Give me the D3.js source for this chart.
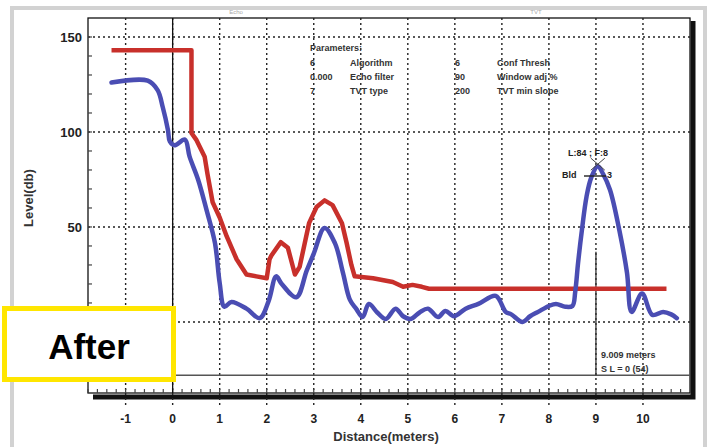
<!DOCTYPE html>
<html>
<head>
<meta charset="utf-8">
<script src="https://cdn.jsdelivr.net/npm/d3@7"></script>
<style>
  body { margin: 0; background: #fff; }
  text { font-family: "Liberation Sans", Arial, sans-serif; }
</style>
</head>
<body>
<svg id="chart" width="713" height="447"></svg>
<script>
'use strict';

// threshold (TVT) curve, red
const redX = [-1.3, 0.4, 0.4, 0.5, 0.68, 0.74, 0.85, 1.0, 1.15, 1.36, 1.57, 1.78, 2.0, 2.06, 2.1, 2.3, 2.45, 2.6, 2.7, 2.9, 3.06, 3.23, 3.4, 3.6, 3.7, 3.8, 3.87, 4.26, 4.68, 4.9, 5.1, 5.3, 5.45, 10.5];
const redY = [143, 143, 99.5, 96, 87, 78, 63, 55, 45, 33, 25, 24, 23, 33, 35, 42, 39, 25, 29, 52, 60.5, 64, 61.5, 52, 41.5, 30, 24, 23, 21, 18.5, 19.5, 18.5, 17.5, 17.5];

// echo profile, blue
const blueX = [-1.3, -0.53, -0.32, -0.21, -0.1, -0.06, 0.04, 0.26, 0.36, 0.54, 0.72, 0.9, 1.0, 1.1, 1.25, 1.57, 1.85, 2.04, 2.2, 2.32, 2.63, 2.85, 3.0, 3.23, 3.45, 3.62, 3.77, 3.9, 4.04, 4.17, 4.35, 4.53, 4.74, 4.9, 5.06, 5.25, 5.43, 5.64, 5.8, 5.98, 6.23, 6.5, 6.87, 7.08, 7.2, 7.44, 7.6, 7.77, 8.0, 8.15, 8.35, 8.5, 8.56, 8.62, 8.7, 8.8, 8.9, 9.04, 9.15, 9.3, 9.5, 9.66, 9.76, 9.98, 10.2, 10.43, 10.6, 10.72];
const blueY = [126, 127, 122, 113, 101, 95, 93, 96, 87, 75, 59, 41.5, 20.5, 8, 10.5, 7, 2, 11, 24, 20, 13, 27, 36, 49.5, 41.5, 26, 11.6, 7, 2.6, 9.5, 5, 1.6, 7, 3, 1.6, 5, 7, 2.6, 5.8, 3, 7, 9.5, 13.7, 5.3, 4, 0, 3, 5.3, 8.4, 9.5, 8, 8.4, 16, 31, 48, 66, 76, 82, 78, 69.5, 48, 26, 5.3, 15, 3.7, 5.3, 4, 2];

const xTicks = [-1, 0, 1, 2, 3, 4, 5, 6, 7, 8, 9, 10];
const yTicks = [50, 100, 150];
const yGrid = [0, 50, 100, 150];

const paramRows = [
  ['6', 'Algorithm', '6', 'Conf Thresh'],
  ['0.000', 'Echo filter', '90', 'Window adj %'],
  ['7', 'TVT type', '200', 'TVT min slope']
];

const svg = d3.select('#chart');
const box = { left: 88, right: 690, top: 18, bottom: 393 };

const x = d3.scaleLinear().domain([-1.8, 11.0]).range([box.left, box.right]);
const y = d3.scaleLinear().domain([-37.4, 160]).range([box.bottom, box.top]);

// outer light frame
svg.append('rect')
  .attr('x', 12).attr('y', 8).attr('width', 693).attr('height', 460)
  .attr('fill', 'none').attr('stroke', '#d2d2d2').attr('stroke-width', 4);

// faint cut-off header text
svg.append('text').attr('x', 236).attr('y', 14).attr('font-size', 6)
  .attr('fill', '#aaa').attr('text-anchor', 'middle').text('Echo');
svg.append('text').attr('x', 536).attr('y', 14).attr('font-size', 6)
  .attr('fill', '#aaa').attr('text-anchor', 'middle').text('TVT');

// frame shadow
svg.append('path')
  .attr('d', `M ${box.right + 3} ${box.top + 3} V ${box.bottom + 4} H ${box.left + 5}`)
  .attr('fill', 'none').attr('stroke', '#111').attr('stroke-width', 5);

// frame
svg.append('rect')
  .attr('x', box.left).attr('y', box.top)
  .attr('width', box.right - box.left).attr('height', box.bottom - box.top)
  .attr('fill', '#fff').attr('stroke', '#111').attr('stroke-width', 1.3);

// grid
svg.append('g').selectAll('line').data(xTicks).join('line')
  .attr('x1', d => x(d)).attr('x2', d => x(d))
  .attr('y1', box.top).attr('y2', box.bottom + 12)
  .attr('stroke', '#222').attr('stroke-width', 1.4).attr('stroke-dasharray', '2,3');
svg.append('g').selectAll('line').data(yGrid).join('line')
  .attr('x1', box.left).attr('x2', box.right)
  .attr('y1', d => y(d)).attr('y2', d => y(d))
  .attr('stroke', '#222').attr('stroke-width', 1.4).attr('stroke-dasharray', '2,3');

// minor ticks
svg.append('g').selectAll('line').data(d3.range(-1.8, 11.0, 0.2)).join('line')
  .attr('x1', d => x(d)).attr('x2', d => x(d))
  .attr('y1', box.bottom - 4).attr('y2', box.bottom)
  .attr('stroke', '#444').attr('stroke-width', 1.2);
svg.append('g').selectAll('line').data(d3.range(-30, 160, 10)).join('line')
  .attr('x1', box.left).attr('x2', box.left + 4)
  .attr('y1', d => y(d)).attr('y2', d => y(d))
  .attr('stroke', '#444').attr('stroke-width', 1.2);

// reference lines
svg.append('line')
  .attr('x1', x(0)).attr('x2', x(0)).attr('y1', box.top).attr('y2', box.bottom)
  .attr('stroke', '#111').attr('stroke-width', 1.3);
svg.append('line')
  .attr('x1', x(0)).attr('x2', box.right).attr('y1', y(-28)).attr('y2', y(-28))
  .attr('stroke', '#555').attr('stroke-width', 1.5);
svg.append('line')
  .attr('x1', x(9)).attr('x2', x(9)).attr('y1', y(37)).attr('y2', y(-28))
  .attr('stroke', '#333').attr('stroke-width', 1.3);

// curves
const redLine = d3.line().x(d => x(d[0])).y(d => y(d[1]));
const blueLine = d3.line().x(d => x(d[0])).y(d => y(d[1])).curve(d3.curveCatmullRom.alpha(0.5));
svg.append('path')
  .datum(d3.zip(redX, redY))
  .attr('d', redLine)
  .attr('fill', 'none').attr('stroke', '#c8302b').attr('stroke-width', 4.5)
  .attr('stroke-linejoin', 'round');
svg.append('path')
  .datum(d3.zip(blueX, blueY))
  .attr('d', blueLine)
  .attr('fill', 'none').attr('stroke', '#4a4db3').attr('stroke-width', 4.5)
  .attr('stroke-linejoin', 'round').attr('stroke-linecap', 'round');

// axis labels
svg.append('g').selectAll('text').data(xTicks).join('text')
  .attr('x', d => x(d)).attr('y', 423)
  .attr('text-anchor', 'middle').attr('font-size', 12).attr('font-weight', 'bold')
  .attr('fill', '#222').text(d => d);
svg.append('g').selectAll('text').data(yTicks).join('text')
  .attr('x', 82).attr('y', d => y(d) + 5)
  .attr('text-anchor', 'end').attr('font-size', 13).attr('font-weight', 'bold')
  .attr('fill', '#222').text(d => d);
svg.append('text')
  .attr('x', 386).attr('y', 441).attr('text-anchor', 'middle')
  .attr('font-size', 13).attr('font-weight', 'bold').attr('fill', '#333')
  .text('Distance(meters)');
svg.append('text')
  .attr('transform', 'translate(33,198) rotate(-90)').attr('text-anchor', 'middle')
  .attr('font-size', 13).attr('font-weight', 'bold').attr('fill', '#333')
  .text('Level(db)');

// parameters block
const params = svg.append('g').attr('font-size', 9).attr('font-weight', 'bold').attr('fill', '#333');
params.append('text').attr('x', 310).attr('y', 51).text('Parameters:');
const colX = [310, 350, 455, 497];
paramRows.forEach((row, i) => {
  row.forEach((s, j) => {
    params.append('text').attr('x', colX[j]).attr('y', 66 + i * 14).text(s);
  });
});

// peak annotation
const peak = [9.04, 82];
svg.append('path')
  .attr('d', `M ${x(peak[0]) - 7} ${y(peak[1]) - 8} L ${x(peak[0]) + 7} ${y(peak[1]) + 4}
              M ${x(peak[0]) + 7} ${y(peak[1]) - 8} L ${x(peak[0]) - 7} ${y(peak[1]) + 4}`)
  .attr('stroke', '#444').attr('stroke-width', 1);
svg.append('text').attr('x', 568).attr('y', 156).attr('font-size', 9).attr('font-weight', 'bold')
  .attr('fill', '#222').text('L:84 ; F:8');
svg.append('text').attr('x', 562).attr('y', 178).attr('font-size', 9).attr('font-weight', 'bold')
  .attr('fill', '#222').text('Bld');
svg.append('line').attr('x1', 584).attr('x2', 606).attr('y1', 176).attr('y2', 176)
  .attr('stroke', '#222').attr('stroke-width', 1.4);
svg.append('text').attr('x', 607).attr('y', 178).attr('font-size', 9).attr('font-weight', 'bold')
  .attr('fill', '#222').text('3');

// bottom-right readout
const readout = svg.append('g').attr('font-size', 9).attr('font-weight', 'bold').attr('fill', '#333');
readout.append('text').attr('x', 601).attr('y', 358).text('9.009 meters');
readout.append('text').attr('x', 601).attr('y', 372).text('S L = 0 (54)');

// "After" badge
svg.append('rect')
  .attr('x', 4.5).attr('y', 308.5).attr('width', 169).attr('height', 71)
  .attr('fill', '#fff').attr('stroke', '#ffe600').attr('stroke-width', 5);
svg.append('text')
  .attr('x', 89).attr('y', 359).attr('text-anchor', 'middle')
  .attr('font-family', '"Open Sans", sans-serif').attr('font-weight', 'bold')
  .attr('font-size', 35).attr('fill', '#000')
  .text('After');
</script>
</body>
</html>
